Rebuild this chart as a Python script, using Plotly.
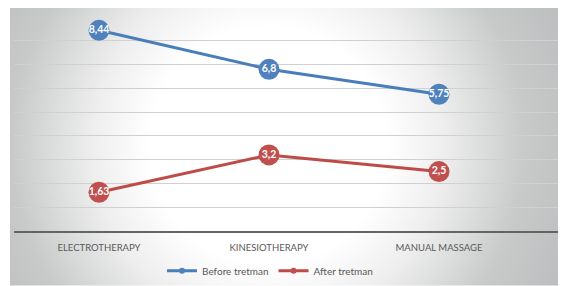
import base64
import plotly.graph_objects as go

categories = ["ELECTROTHERAPY", "KINESIOTHERAPY", "MANUAL MASSAGE"]
before_values = [8.44, 6.8, 5.75]
after_values = [1.63, 3.2, 2.5]
series_names = ["Before tretman", "After tretman"]

# the page body has an 8px margin; work in screen pixels and shift
OFF = 8
SW, SH = 566, 286
W, H = SW - OFF, SH - OFF
# plot area in screen pixels
px0, py0, px1, py1 = 14, 17.3, SW, 231.3
ML, MT = px0 - OFF, py0 - OFF
MR, MB = 0, SH - py1
PW, PH = px1 - px0, py1 - py0

def fmt(v):
    return f"{v:g}".replace(".", ",")

blue_line, blue_mark = "#4A7EBB", "#4F81BD"
red_line, red_mark = "#BE4B48", "#C0504D"
FONT = "Lato"

fig = go.Figure()
for vals, lc, mc in [(before_values, blue_line, blue_mark),
                     (after_values, red_line, red_mark)]:
    fig.add_trace(go.Scatter(
        x=categories, y=vals, mode="lines+markers+text", showlegend=False,
        line=dict(color=lc, width=3),
        marker=dict(size=21, color=mc, line=dict(width=0)),
        text=[fmt(v) for v in vals], textposition="middle center",
        textfont=dict(family=FONT, size=10.5, color="white", weight="bold"),
        cliponaxis=False, hoverinfo="skip"))
for name, lc, mc in [(series_names[0], blue_line, blue_mark),
                     (series_names[1], red_line, red_mark)]:
    fig.add_trace(go.Scatter(
        x=[None], y=[None], mode="lines+markers", name=name,
        line=dict(color=lc, width=3), marker=dict(size=6, color=mc)))

# radial gradient background as SVG (screen px)
bx0, by0, bx1, by1 = 10, OFF, SW, SH
bw, bh = bx1 - bx0, by1 - by0
cx, cy, R = 268, 146, 320
svg = f"""<svg xmlns='http://www.w3.org/2000/svg' width='{bw}' height='{bh}' viewBox='0 0 {bw} {bh}'>
<defs><radialGradient id='g' gradientUnits='userSpaceOnUse' cx='{cx-bx0}' cy='{cy-by0}' r='{R}'>
<stop offset='0' stop-color='#ffffff'/><stop offset='0.37' stop-color='#ffffff'/>
<stop offset='0.55' stop-color='#eeeeee'/>
<stop offset='0.8' stop-color='#c8caca'/><stop offset='1' stop-color='#bcbebf'/></radialGradient></defs>
<rect x='0' y='0' width='{bw}' height='{bh}' fill='url(#g)'/></svg>"""
src = "data:image/svg+xml;base64," + base64.b64encode(svg.encode()).decode()

def paper_x(sx):
    return (sx - px0) / PW

def paper_y(sy):
    return (py1 - sy) / PH

fig.add_layout_image(dict(
    source=src, xref="paper", yref="paper",
    x=paper_x(bx0), y=paper_y(by0),
    sizex=bw / PW, sizey=bh / PH, sizing="stretch",
    xanchor="left", yanchor="top", layer="below"))

fig.update_layout(
    width=W, height=H, margin=dict(l=ML, r=MR, t=MT, b=MB, pad=0),
    paper_bgcolor="white", plot_bgcolor="rgba(0,0,0,0)",
    font=dict(family=FONT, color="#595959"),
    showlegend=True,
    legend=dict(orientation="h", x=paper_x(270), xanchor="center",
                y=paper_y(271), yanchor="middle",
                font=dict(family=FONT, size=10, color="#595959"),
                bgcolor="rgba(0,0,0,0)", itemwidth=30),
    xaxis=dict(type="category", range=[-0.5, -0.5 + PW / 170.0],
               showgrid=False, showline=True, linecolor="#646464", linewidth=2,
               ticks="", ticklabelstandoff=7,
               tickfont=dict(family=FONT, size=9.5, color="#595959"),
               fixedrange=True, zeroline=False),
    yaxis=dict(range=[0, 9], dtick=1, showgrid=True, gridcolor="#d0d0d0",
               gridwidth=1, showticklabels=False, zeroline=False, showline=False,
               fixedrange=True),
)

fig.write_html("out.html")
